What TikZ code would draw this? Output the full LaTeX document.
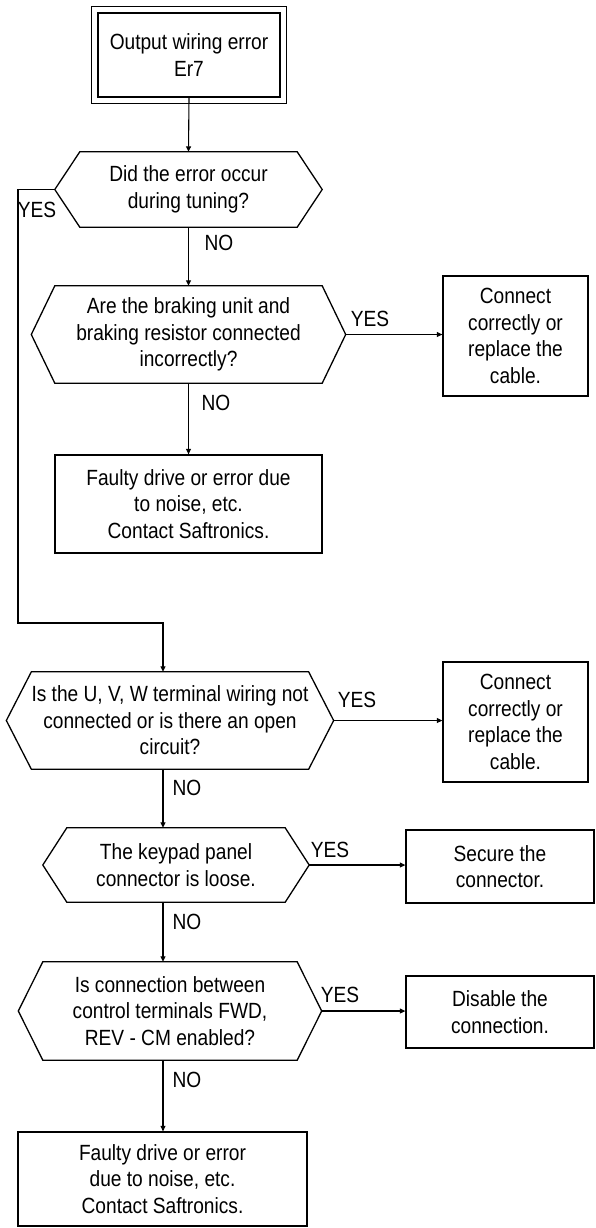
\documentclass[tikz,border=0pt]{standalone}
\usepackage{fontspec}
\setmainfont{Liberation Sans}[FakeStretch=0.87]
\usetikzlibrary{arrows.meta}
\newcommand\hexframe[2]{%
  \draw[frame] (#1.north west) -- (#1.north east) -- ([xshift=#2pt]#1.east) coordinate (#1E)
    -- (#1.south east) -- (#1.south west) -- ([xshift=-#2pt]#1.west) coordinate (#1W) -- cycle;}
\begin{document}
\begin{tikzpicture}[x=1pt,y=-1pt,
  every node/.style={font=\fontsize{22}{26.5}\selectfont, align=center, inner sep=0pt},
  frame/.style={line width=1.3pt, line join=miter},
  boxnode/.style={draw, line width=1.3pt},
  arr/.style={line width=1.1pt, -{Triangle[length=5.5pt,width=5pt]}}]
\useasboundingbox (0,0) rectangle (595,1228);
\fill[white] (0,0) rectangle (595,1228);

% start box (double frame)
\node[boxnode, minimum width=182pt, minimum height=84pt] (start) at (189,55) {Output wiring error\\Er7};
\draw[frame] ([xshift=-6pt,yshift=6pt]start.north west) rectangle ([xshift=6pt,yshift=-6pt]start.south east);

% decisions
\node[minimum width=217pt, minimum height=75pt] (h1) at (188.5,189.5) {Did the error occur\\during tuning?};
\hexframe{h1}{25}
\node[minimum width=267pt, minimum height=97pt] (h2) at (188.5,334.5) {Are the braking unit and\\braking resistor connected\\incorrectly?};
\hexframe{h2}{23.5}
\node[minimum width=276pt, minimum height=97pt] (h3) at (170,720.5) {Is the U, V, W terminal wiring not\\connected or is there an open\\circuit?};
\hexframe{h3}{25}
\node[minimum width=218pt, minimum height=74pt] (h4) at (176,865) {The keypad panel\\connector is loose.};
\hexframe{h4}{24}
\node[minimum width=254pt, minimum height=98pt] (h5) at (170,1011) {Is connection between\\control terminals FWD,\\REV - CM enabled?};
\hexframe{h5}{24.5}

% process boxes
\node[boxnode, minimum width=145pt, minimum height=120pt] (r1) at (515.5,336) {Connect\\correctly or\\replace the\\cable.};
\node[boxnode, minimum width=267pt, minimum height=98pt] (f1) at (188.5,504) {Faulty drive or error due\\to noise, etc.\\Contact Saftronics.};
\node[boxnode, minimum width=145pt, minimum height=120pt] (r2) at (515.5,722) {Connect\\correctly or\\replace the\\cable.};
\node[boxnode, minimum width=188pt, minimum height=73pt] (r3) at (500,866.5) {Secure the\\connector.};
\node[boxnode, minimum width=188pt, minimum height=72pt] (r4) at (500,1012) {Disable the\\connection.};
\node[boxnode, minimum width=289pt, minimum height=94pt] (fin) at (162.5,1179) {Faulty drive or error\\due to noise, etc.\\Contact Saftronics.};

% labels
\node (y1) at (37,210) {YES};
\node (n1) at (219,243) {NO};
\node (y2) at (370,319) {YES};
\node (n2) at (216,403) {NO};
\node (y3) at (357,700) {YES};
\node (n3) at (187,788) {NO};
\node (y4) at (330,850) {YES};
\node (n4) at (187,922) {NO};
\node (y5) at (340,995) {YES};
\node (n5) at (187,1080) {NO};

% connectors
\coordinate (ya) at (18,623);
\coordinate (jx) at (163,623);
\draw[arr] (start.south) -- (h1.north);
\draw[arr] (h1.south) -- (h2.north);
\draw[arr] (h1W) -| (ya) -- (jx) -- (jx |- h3.north);
\draw[arr] (h2E) -- (h2E -| r1.west);
\draw[arr] (h2.south) -- (f1.north);
\draw[arr] (h3E) -- (h3E -| r2.west);
\draw[arr] (h3.south -| jx) -- (h4.north -| jx);
\draw[arr] (h4E) -- (h4E -| r3.west);
\draw[arr] (h4.south -| jx) -- (h5.north -| jx);
\draw[arr] (h5E) -- (h5E -| r4.west);
\draw[arr] (h5.south -| jx) -- (fin.north -| jx);
\end{tikzpicture}
\end{document}
